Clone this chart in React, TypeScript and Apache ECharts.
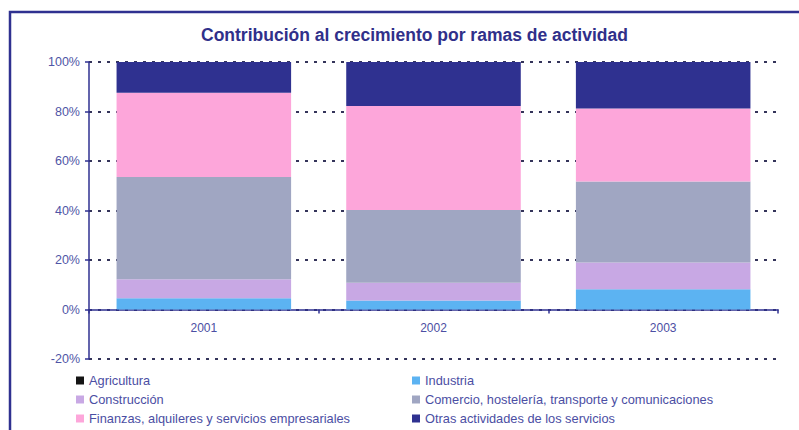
import React, { useEffect, useRef } from "react";
import * as echarts from "echarts";

const years = ["2001", "2002", "2003"];
const agricultura = [0, 0, 0];
const industria = [4.5, 3.6, 8.2];
const construccion = [7.7, 7.2, 10.8];
const comercio = [41.3, 29.4, 32.7];
const finanzas = [34.1, 42.0, 29.5];
const otras = [12.4, 17.8, 18.8];

const seriesNames = [
  "Agricultura",
  "Industria",
  "Construcción",
  "Comercio, hostelería, transporte y comunicaciones",
  "Finanzas, alquileres y servicios empresariales",
  "Otras actividades de los servicios",
];
const seriesData = [agricultura, industria, construccion, comercio, finanzas, otras];
const seriesColors = ["#141414", "#5cb3f2", "#c8a8e4", "#a0a6c2", "#fda6da", "#2f3190"];

const FONT = "'Liberation Sans', Arial, sans-serif";
const NAVY = "#2f3190";

export default function App() {
  const ref = useRef<HTMLDivElement>(null);
  useEffect(() => {
    document.body.style.margin = "0";
    const chart = echarts.init(ref.current!, null, { renderer: "svg" });
    const legendText = { color: "#4b4ea3", fontSize: 12.8, fontFamily: FONT };
    chart.setOption({
      animation: false,
      backgroundColor: "#ffffff",
      title: {
        text: "Contribución al crecimiento por ramas de actividad",
        left: 196,
        top: 21,
        textStyle: { color: "#30308a", fontSize: 17.5, fontWeight: "bold", fontFamily: FONT },
      },
      graphic: [
        {
          type: "rect",
          shape: { x: 10, y: 12, width: 840, height: 480 },
          style: { fill: "none", stroke: NAVY, lineWidth: 2.5 },
          silent: true,
        },
      ],
      legend: [
        {
          data: [seriesNames[0], seriesNames[2], seriesNames[4]],
          orient: "vertical",
          left: 76,
          top: 374,
          itemWidth: 8,
          itemHeight: 8,
          itemGap: 6,
          icon: "rect",
          textStyle: legendText,
          padding: 0,
        },
        {
          data: [seriesNames[1], seriesNames[3], seriesNames[5]],
          orient: "vertical",
          left: 412,
          top: 374,
          itemWidth: 8,
          itemHeight: 8,
          itemGap: 6,
          icon: "rect",
          textStyle: legendText,
          padding: 0,
        },
      ],
      grid: { left: 89, right: 21, top: 62, bottom: 71, containLabel: false },
      xAxis: {
        type: "category",
        data: years,
        axisLine: { show: true, onZero: true, lineStyle: { color: NAVY, width: 1.5 } },
        axisTick: { show: true, length: 4, lineStyle: { color: NAVY, width: 1.5 } },
        axisLabel: { color: "#4b4ea3", fontSize: 12, fontFamily: FONT, margin: -37 },
      },
      yAxis: {
        type: "value",
        min: -20,
        max: 100,
        interval: 20,
        axisLine: { show: true, onZero: false, lineStyle: { color: NAVY, width: 1.5 } },
        axisTick: { show: true, length: 4, lineStyle: { color: NAVY, width: 1.5 } },
        axisLabel: {
          formatter: "{value}%",
          color: "#4f55a6",
          fontSize: 12.5,
          fontFamily: FONT,
          margin: 9,
        },
        splitLine: {
          show: true,
          lineStyle: { color: "#34345a", width: 2, type: [3, 6] },
        },
      },
      series: seriesNames.map((name, i) => ({
        name,
        type: "bar",
        stack: "total",
        barWidth: "76%",
        data: seriesData[i],
        itemStyle: { color: seriesColors[i] },
      })),
    });
    return () => chart.dispose();
  }, []);
  return <div ref={ref} style={{ width: 799, height: 430 }} />;
}
